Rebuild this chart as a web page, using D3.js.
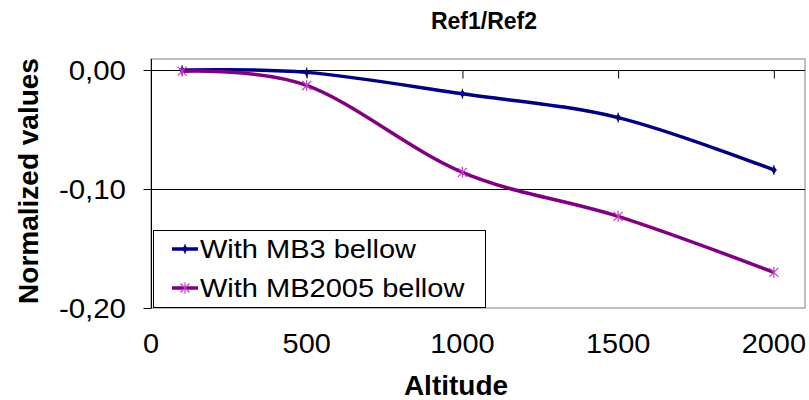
<!DOCTYPE html>
<html>
<head>
<meta charset="utf-8">
<script src="https://cdn.jsdelivr.net/npm/d3@7"></script>
<style>
  html, body { margin: 0; padding: 0; background: #fff; }
  svg { display: block; font-family: Arial, "Liberation Sans", sans-serif; }
</style>
</head>
<body>
<svg id="chart" width="809" height="400"></svg>
<script>
// Altitude sampling points and the normalized Ref1/Ref2 ratios for each bellow type
const altitudes = [100, 500, 1000, 1500, 2000];
const withMB3 = [0.000, -0.002, -0.020, -0.040, -0.084];
const withMB2005 = [-0.001, -0.013, -0.086, -0.123, -0.170];
const seriesNames = ["With MB3 bellow", "With MB2005 bellow"];
const xTicks = [0, 500, 1000, 1500, 2000];
const yTicks = [0, -0.1, -0.2];
const titleText = "Ref1/Ref2";
const xTitle = "Altitude";
const yTitle = "Normalized values";

const svg = d3.select("#chart");
const plot = { left: 151, right: 805, top: 59, bottom: 308 };

const x = d3.scaleLinear().domain([0, 2100]).range([plot.left, plot.right]);
const y = d3.scaleLinear().domain([0, -0.2]).range([70, plot.bottom]);

const fmt = v => d3.format(".2f")(v).replace(".", ",").replace("−", "-");

// stretch text horizontally a little, like the wide rendering of the labels
function widen(sel, factor) {
  sel.each(function () {
    const len = this.getComputedTextLength();
    d3.select(this).attr("textLength", len * factor).attr("lengthAdjust", "spacingAndGlyphs");
  });
}

// plot frame
svg.append("rect")
  .attr("x", plot.left).attr("y", plot.top)
  .attr("width", plot.right - plot.left).attr("height", plot.bottom - plot.top)
  .attr("fill", "#fff").attr("stroke", "#808080").attr("stroke-width", 1);

// horizontal gridline at -0,10
svg.append("line")
  .attr("x1", plot.left).attr("x2", plot.right)
  .attr("y1", y(-0.1) + 0.5).attr("y2", y(-0.1) + 0.5)
  .attr("stroke", "#000").attr("stroke-width", 1);

// x axis crossing at zero, ticks pointing down
const xAxis = d3.axisBottom(x).tickValues(xTicks.filter(d => d > 0)).tickSize(8).tickFormat("");
const gx = svg.append("g").attr("transform", `translate(0,${y(0) + 0.5})`).call(xAxis);
gx.select(".domain").attr("d", `M${plot.left},0H${plot.right}`).attr("stroke", "#000");
gx.selectAll(".tick line").attr("stroke", "#000");

// x tick labels along the bottom, below the plot area
const xl = svg.append("g").selectAll("text").data(xTicks).join("text")
  .attr("x", d => x(d)).attr("y", 353)
  .attr("text-anchor", "middle").attr("font-size", 27).attr("fill", "#000")
  .text(d => d);
widen(xl, 1.07);

// y axis
const yAxis = d3.axisLeft(y).tickValues(yTicks).tickSize(8).tickFormat("");
const gy = svg.append("g").attr("transform", `translate(${plot.left + 0.5},0)`).call(yAxis);
gy.select(".domain").attr("d", `M0,${plot.top}V${plot.bottom}`).attr("stroke", "#000");
gy.selectAll(".tick line").attr("stroke", "#000");

const yl = svg.append("g").selectAll("text").data(yTicks).join("text")
  .attr("x", 126).attr("y", d => y(d) + 9.5)
  .attr("text-anchor", "end").attr("font-size", 27).attr("fill", "#000")
  .text(d => fmt(d));
widen(yl, 1.09);

// titles
svg.append("text").attr("x", 484).attr("y", 29)
  .attr("text-anchor", "middle").attr("font-size", 23).attr("font-weight", "bold")
  .text(titleText);
svg.append("text").attr("x", 456).attr("y", 395)
  .attr("text-anchor", "middle").attr("font-size", 28).attr("font-weight", "bold")
  .text(xTitle);
svg.append("text").attr("transform", "translate(38,181) rotate(-90)")
  .attr("text-anchor", "middle").attr("font-size", 28).attr("font-weight", "bold")
  .text(yTitle);

// series
const series = [
  { name: seriesNames[0], values: withMB3, color: "#000080", marker: "plus", markColor: "#000080" },
  { name: seriesNames[1], values: withMB2005, color: "#800080", marker: "star", markColor: "#c040c0" }
];

const line = d3.line()
  .x((d, i) => x(altitudes[i]))
  .y(d => y(d))
  .curve(d3.curveCardinal.tension(0));

function drawMarker(g, cx, cy, s) {
  if (s.marker === "plus") {
    g.append("path")
      .attr("d", `M${cx},${cy - 4}L${cx + 3},${cy}L${cx},${cy + 4}L${cx - 3},${cy}Z`)
      .attr("fill", s.markColor);
    g.append("path").attr("d", `M${cx},${cy - 5}V${cy + 5}`)
      .attr("stroke", s.markColor).attr("stroke-width", 1);
  } else {
    const r = 4.5;
    g.append("path")
      .attr("d", `M${cx - r},${cy - r}L${cx + r},${cy + r}M${cx - r},${cy + r}L${cx + r},${cy - r}M${cx},${cy - r - 1}V${cy + r + 1}`)
      .attr("stroke", s.markColor).attr("stroke-width", 1.2).attr("fill", "none");
  }
}

series.forEach(s => {
  svg.append("path").datum(s.values)
    .attr("d", line)
    .attr("fill", "none").attr("stroke", s.color)
    .attr("stroke-width", 3.5).attr("stroke-linejoin", "round");
  const mg = svg.append("g");
  s.values.forEach((v, i) => drawMarker(mg, x(altitudes[i]), y(v), s));
});

// legend
const legend = svg.append("g");
legend.append("rect")
  .attr("x", 153.5).attr("y", 230.5).attr("width", 332).attr("height", 77)
  .attr("fill", "#fff").attr("stroke", "#000").attr("stroke-width", 1);
series.forEach((s, i) => {
  const cy = 249 + i * 39;
  legend.append("line")
    .attr("x1", 172).attr("x2", 198).attr("y1", cy).attr("y2", cy)
    .attr("stroke", s.color).attr("stroke-width", 3.5);
  drawMarker(legend, 185, cy, s);
  const t = legend.append("text")
    .attr("x", 200).attr("y", cy + 9)
    .attr("font-size", 25).attr("fill", "#000")
    .text(s.name);
  widen(t, 1.16);
});
</script>
</body>
</html>
